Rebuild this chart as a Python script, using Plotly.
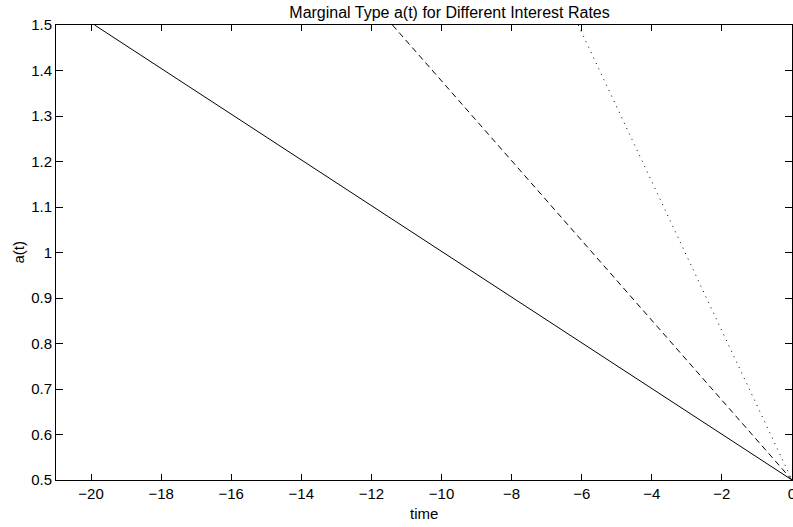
import plotly.graph_objects as go

# Each series: time where a(t)=1.5 (upper end) and value at t=0
solid_t = [-19.9, 0.0]
solid_a = [1.5, 0.5]
dashed_t = [-11.4, 0.0]
dashed_a = [1.5, 0.5]
dotted_t = [-6.1, 0.0]
dotted_a = [1.5, 0.5]

x_ticks = [-20, -18, -16, -14, -12, -10, -8, -6, -4, -2, 0]
y_ticks = [0.5, 0.6, 0.7, 0.8, 0.9, 1.0, 1.1, 1.2, 1.3, 1.4, 1.5]
y_tick_labels = ["0.5", "0.6", "0.7", "0.8", "0.9", "1", "1.1", "1.2", "1.3", "1.4", "1.5"]

FONT = "Liberation Sans, Arial, sans-serif"
W, H = 793, 527
L, R, T, B = 56, 1, 25, 47

fig = go.Figure()
fig.add_trace(go.Scatter(x=solid_t, y=solid_a, mode="lines",
                         line=dict(color="black", width=1, dash="solid"), showlegend=False))
fig.add_trace(go.Scatter(x=dashed_t, y=dashed_a, mode="lines",
                         line=dict(color="black", width=1, dash="6px,4px"), showlegend=False))
fig.add_trace(go.Scatter(x=dotted_t, y=dotted_a, mode="lines",
                         line=dict(color="black", width=1, dash="1px,5px"), showlegend=False))

fig.update_layout(
    width=W, height=H,
    margin=dict(l=L, r=R, t=T, b=B, autoexpand=False),
    paper_bgcolor="white", plot_bgcolor="white",
    font=dict(family=FONT, size=15, color="black"),
    title=dict(text="Marginal Type a(t) for Different Interest Rates",
               x=(L + (W - R - L) / 2) / W, xref="paper", xanchor="center",
               y=1 - 12 / H, yanchor="middle",
               font=dict(family=FONT, size=16, color="black")),
)
fig.update_xaxes(range=[-21, 0], tickvals=x_ticks, ticks="inside", ticklen=6, tickwidth=1,
                 tickcolor="black", showline=True, linecolor="black", linewidth=1,
                 mirror="ticks", showgrid=False, zeroline=False, automargin=False,
                 ticklabeloverflow="allow", tickfont=dict(family=FONT, size=15))
fig.update_yaxes(range=[0.5, 1.5], tickvals=y_ticks, ticktext=y_tick_labels, ticks="inside",
                 ticklen=7, tickwidth=1, tickcolor="black", showline=True, linecolor="black",
                 linewidth=1, mirror="ticks", showgrid=False, zeroline=False, automargin=False,
                 ticklabeloverflow="allow", tickfont=dict(family=FONT, size=15))

fig.add_annotation(text="time", xref="paper", yref="paper",
                   x=0.5, y=-(513 - (H - B)) / (H - T - B), xanchor="center", yanchor="middle",
                   showarrow=False, font=dict(family=FONT, size=15))
fig.add_annotation(text="a(t)", xref="paper", yref="paper", textangle=-90,
                   x=-(L - 18) / (W - L - R), y=0.5, xanchor="center", yanchor="middle",
                   showarrow=False, font=dict(family=FONT, size=15))

fig.write_html("out.html", config={"displayModeBar": False},
               post_script="document.body.style.margin='0';document.body.style.overflow='hidden';")
